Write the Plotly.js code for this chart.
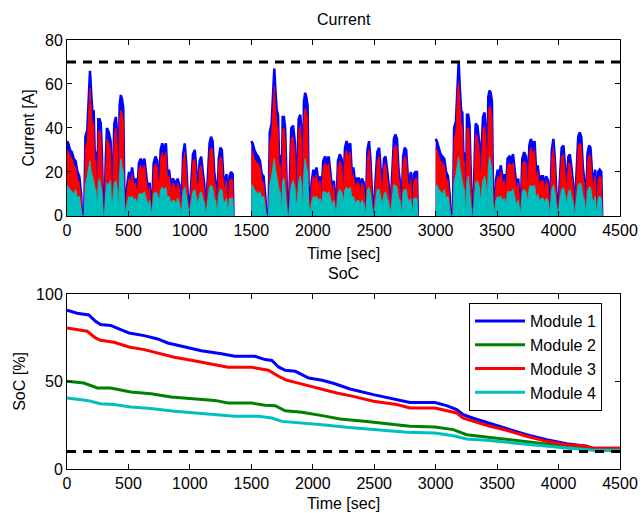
<!DOCTYPE html>
<html><head><meta charset="utf-8">
<script src="https://cdn.plot.ly/plotly-3.0.1.min.js"></script>
<style>body{margin:0;background:#fff}#chart{width:641px;height:513px}</style>
</head><body><div id="chart"></div>
<script>
// ---- Data ----
const currentLimit = 70;   // A
const socMin = 10;         // %
const cycleStarts = [0, 1500, 3000];   // s, start of each drive cycle
const cycleTime = [0,10,25,40,55,70,85,100,115,122,140,150,165,178,187,197,207,217,225,235,245,255,265,275,285,295,305,315,325,340,355,362,372,385,398,410,418,428,438,448,458,466,478,490,505,518,530,545,558,572,585,600,615,630,645,658,672,690,705,720,735,750,762,775,790,805,818,830,845,860,875,888,900,915,930,945,958,970,982,995,1010,1025,1040,1052,1065,1080,1092,1105,1118,1130,1145,1160,1172,1185,1198,1210,1222,1235,1248,1260,1272,1285,1298,1310,1322,1335,1348,1355];

// Module currents [A], one array per cycle
const m1Cycle1 = [34,33,30,29,26,25,20,18,10,0, 0,36,39,60,66,56,47,48,30,28, 0,44,44,42,27,0,0,25,40,38, 34,12,14,42,45,36,0,50,55,53, 49,14,0,14,20,17,22,15,17,10, 24,26,24,26,18,12,15,0,24,27, 25,13,30,33,30,33,18,21,14,17, 16,12,17,14,0,28,33,24,10,0, 14,28,30,22,12,25,27,20,14,0, 18,33,36,34,20,15,0,26,31,30, 18,14,19,0,18,20,19,0];
const m3Cycle1 = [30,29,27,26,23,22,17,15,8,0, 0,31,34,52,58,49,41,42,26,24, 0,38,39,36,23,0,0,21,35,33, 30,10,12,36,40,31,0,44,48,47, 43,12,0,12,17,15,19,13,15,8, 21,23,21,23,16,10,13,0,21,24, 22,11,26,29,26,29,16,18,12,15, 14,10,15,12,0,24,29,21,8,0, 12,25,26,19,10,22,23,17,12,0, 16,29,31,30,17,13,0,23,27,26, 15,12,16,0,16,17,16,0];
const m4Cycle1 = [14,13,12,11,10,12,8,9,4,0, 0,14,18,22,25,20,18,16,13,12, 0,15,17,12,10,0,0,10,15,14, 16,5,7,15,16,12,0,19,26,22, 20,6,0,6,9,8,9,7,8,5, 10,10,10,11,8,5,7,0,10,11, 10,6,12,13,12,13,8,9,6,7, 7,5,8,6,0,11,13,10,5,0, 6,11,12,9,5,10,11,8,6,0, 7,13,14,13,8,7,0,10,12,12, 7,6,8,0,8,8,8,0];

const m1Cycle2 = [34,33,30,28,27,25,19,18,8,0, 0,38,42,62,67,56,48,46,28,27, 0,45,45,40,14,0,0,20,40,41, 33,14,14,44,46,38,0,52,56,54, 50,14,0,15,21,18,22,16,18,11, 25,27,25,27,19,12,16,0,25,28, 26,14,31,34,31,33,19,22,15,17, 17,12,17,15,0,30,34,25,10,0, 15,29,31,23,12,26,27,21,14,0, 19,35,37,35,21,15,0,27,31,30, 19,14,20,0,19,20,20,0];
const m3Cycle2 = [30,29,26,24,24,22,16,15,6,0, 0,33,37,55,59,49,42,40,24,23, 0,39,40,35,12,0,0,17,35,36, 29,12,12,38,41,33,0,45,49,47, 44,12,0,13,18,16,19,14,16,9, 22,24,22,24,17,10,14,0,22,25, 23,12,27,30,27,29,17,19,13,15, 15,10,15,13,0,26,30,22,8,0, 13,25,27,20,10,23,24,18,12,0, 17,31,32,31,18,13,0,24,27,26, 16,12,17,0,16,17,17,0];
const m4Cycle2 = [14,14,12,11,10,11,8,9,3,0, 0,14,18,24,26,21,18,16,12,11, 0,16,17,12,5,0,0,8,14,16, 13,6,6,15,18,14,0,20,26,22, 20,6,0,6,9,8,9,7,8,5, 11,11,10,11,8,5,7,0,10,12, 11,6,12,13,12,13,8,9,6,7, 7,5,7,6,0,12,13,10,4,0, 6,12,12,9,5,10,11,8,6,0, 8,14,14,13,8,7,0,11,12,12, 8,6,8,0,8,8,8,0];

const m1Cycle3 = [35,34,31,28,27,26,20,18,9,0, 0,40,43,64,70,58,48,47,29,28, 0,46,46,42,14,0,0,22,42,41, 33,15,27,45,47,38,0,54,57,56, 52,14,0,16,21,19,23,17,19,12, 26,27,26,28,20,13,17,0,26,29, 27,14,32,35,32,34,20,23,16,18, 18,13,18,16,0,30,35,26,11,0, 16,31,32,24,13,27,28,22,15,0, 20,36,38,36,22,16,0,28,32,31, 20,15,21,0,20,21,20,0];
const m3Cycle3 = [31,30,27,25,24,23,17,16,7,0, 0,35,38,57,61,51,42,41,25,24, 0,40,40,37,12,0,0,19,37,36, 29,13,23,39,41,33,0,47,50,49, 45,12,0,14,18,16,20,15,16,10, 23,24,23,24,17,11,15,0,23,25, 24,12,28,31,28,30,17,20,14,16, 16,11,16,14,0,26,31,23,9,0, 14,27,28,21,11,24,24,19,13,0, 17,32,33,32,19,14,0,24,28,27, 17,13,18,0,17,18,17,0];
const m4Cycle3 = [14,14,12,11,10,12,8,9,4,0, 0,15,19,25,27,22,19,16,13,12, 0,16,18,12,6,0,0,9,15,16, 13,6,10,16,18,14,0,21,27,23, 21,6,0,7,9,8,9,7,8,5, 11,11,11,12,8,5,7,0,11,12, 11,6,13,14,13,14,8,10,7,8, 8,6,8,7,0,12,14,11,5,0, 7,12,13,10,5,11,12,9,6,0, 8,14,15,14,9,7,0,11,13,13, 8,6,9,0,8,9,8,0];

// SoC [%]
const socTime1 = [0,82,178,232,273,355,437,505,628,738,820,956,1093,1257,1366,1530,1612,1667,1721,1776,1858,1967,2076,2167,2303,2493,2655,2791,2994,3089,3171,3225,3306,3442,3577,3740,3903,4066,4229,4283,4500];
const soc1 = [90.7,89,88,84.4,82.5,82,79.6,77.7,76.2,74.3,72,70,67.6,65.9,64.4,64.4,62.5,62,58.3,56.4,55.8,52,50.7,49,45.7,42.5,40,38,38,36.2,34,31,29,26,22.9,19.6,16.8,14.5,13,11.8,11.8];
const socTime2 = [0,137,246,355,519,683,847,1011,1202,1311,1503,1612,1694,1776,1912,2076,2222,2439,2601,2791,2994,3143,3252,3415,3577,3794,4012,4175,4310,4500];
const soc2 = [50.1,49.1,46.3,46.3,44,43,41.1,40.2,39.2,37.7,37.7,36.4,36.2,33.3,32.4,30.5,28.6,27.2,25.9,24.4,24,22.5,19.6,18.3,16.8,14.9,13.3,12,10.7,10.7];
const socTime3 = [0,164,232,273,382,505,628,765,874,1011,1175,1311,1503,1639,1721,1790,1858,1994,2076,2195,2330,2493,2683,2791,2994,3089,3171,3225,3306,3442,3577,3740,3903,4066,4229,4283,4500];
const soc3 = [80.6,78.7,74.9,73.5,72.4,69.7,68.2,65.9,63.8,62.1,60,58.1,58.1,56.4,53,50.7,49.5,46.9,45.7,43.4,41.5,38.7,36.8,34.9,34.9,33.5,32,29,27.2,24.4,22.1,18.7,15.8,13.9,13,11.8,11.8];
const socTime4 = [0,164,273,382,519,683,874,1038,1229,1366,1557,1667,1749,1858,2076,2276,2493,2764,2994,3143,3252,3415,3632,3849,4066,4283,4500];
const soc4 = [40.6,39.2,37.3,36.8,35.4,34.5,33,32,31,30.1,30.1,29.1,27.2,26.7,25.3,23.8,22.5,21,20.6,19,17.1,16.4,14.9,13.3,12,10.7,10.7];

const moduleNames = ['Module 1','Module 2','Module 3','Module 4'];
const colors = {m1:'#0000ff', m2:'#008000', m3:'#ff0000', m4:'#00bfbf'};
const tRange = [0, 4500];

// ---- Traces ----
const traces = [];
const currentSets = [
  {cyc:[m1Cycle1,m1Cycle2,m1Cycle3], color:colors.m1, w:2.5},
  {cyc:[m3Cycle1,m3Cycle2,m3Cycle3], color:colors.m3, w:1},
  {cyc:[m4Cycle1,m4Cycle2,m4Cycle3], color:colors.m4, w:1}
];
currentSets.forEach(s => {
  s.cyc.forEach((vals, i) => {
    traces.push({
      x: cycleTime.map(t => t + cycleStarts[i]), y: vals,
      type:'scatter', mode:'lines', fill:'tozeroy',
      fillcolor: s.color, line:{color:s.color, width:s.w},
      xaxis:'x', yaxis:'y', showlegend:false, hoverinfo:'skip'
    });
  });
});
traces.push({x:tRange, y:[currentLimit,currentLimit], type:'scatter', mode:'lines',
  line:{color:'#000', width:3, dash:'9px,7px'}, xaxis:'x', yaxis:'y', showlegend:false});

const socSets = [[socTime1,soc1,colors.m1],[socTime2,soc2,colors.m2],[socTime3,soc3,colors.m3],[socTime4,soc4,colors.m4]];
socSets.forEach((s, i) => {
  traces.push({x:s[0], y:s[1], type:'scatter', mode:'lines', name:moduleNames[i],
    line:{color:s[2], width:3}, xaxis:'x2', yaxis:'y2'});
});
traces.push({x:tRange, y:[socMin,socMin], type:'scatter', mode:'lines',
  line:{color:'#000', width:3, dash:'9px,7px'}, xaxis:'x2', yaxis:'y2', showlegend:false});

// ---- Layout ----
const font = {family:'Liberation Sans, Arial, Helvetica, sans-serif', size:16, color:'#000'};
const axBase = {showline:true, linecolor:'#000', linewidth:1, mirror:'ticks', ticks:'inside',
  ticklen:5, tickcolor:'#000', showgrid:false, zeroline:false, tickfont:{size:16}};
const layout = {
  width:641, height:513, font:font, paper_bgcolor:'#fff', plot_bgcolor:'#fff',
  margin:{l:67, r:21, t:40, b:44},
  showlegend:true,
  xaxis: Object.assign({}, axBase, {domain:[0,1], range:tRange, dtick:500, anchor:'y',
    title:{text:'Time [sec]', font:{size:16}, standoff:9}}),
  yaxis: Object.assign({}, axBase, {domain:[0.59,1], range:[0,80], dtick:20, anchor:'x',
    title:{text:'Current [A]', font:{size:16}, standoff:6}}),
  xaxis2: Object.assign({}, axBase, {domain:[0,1], range:tRange, dtick:500, anchor:'y2',
    title:{text:'Time [sec]', font:{size:16}, standoff:6}}),
  yaxis2: Object.assign({}, axBase, {domain:[0,0.408], range:[0,100], dtick:50, anchor:'x2',
    title:{text:'SoC [%]', font:{size:16}, standoff:6}}),
  legend:{x:0.727, y:0.387, xanchor:'left', yanchor:'top', bgcolor:'#fff',
    bordercolor:'#000', borderwidth:1, font:{size:16}, itemwidth:50, tracegroupgap:0},
  annotations:[
    {text:'Current', xref:'paper', yref:'paper', x:0.5, y:1, yshift:10, yanchor:'bottom', showarrow:false, font:{size:16}},
    {text:'SoC', xref:'paper', yref:'paper', x:0.5, y:0.408, yshift:10, yanchor:'bottom', showarrow:false, font:{size:16}}
  ]
};
Plotly.newPlot('chart', traces, layout, {displayModeBar:false, staticPlot:true});
</script>
</body></html>
